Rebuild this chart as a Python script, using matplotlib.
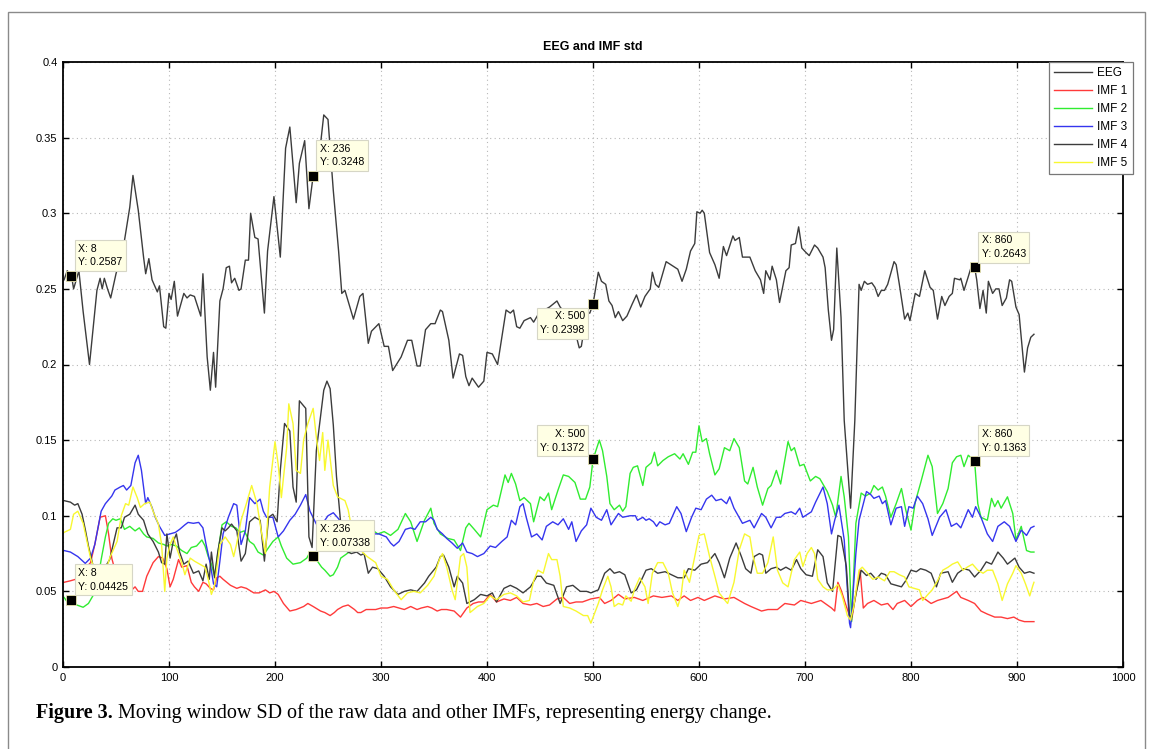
import matplotlib
matplotlib.use("Agg")
import matplotlib.pyplot as plt
from matplotlib.patches import Rectangle

plt.rcParams["font.family"] = ["Liberation Sans", "DejaVu Sans"]

# Данные: (x, y) для каждой кривой
eeg = [(1,0.256),(4,0.262),(8,0.2587),(10,0.250),(15,0.262),(19,0.235),(25,0.200),(29,0.228),(32,0.249),(35,0.257),(37,0.250),(39,0.257),(42,0.250),(45,0.244),(50,0.260),(54,0.270),(58,0.282),(63,0.304),(66,0.325),(71,0.302),(76,0.271),(78,0.260),(81,0.270),(84,0.256),(89,0.248),(91,0.252),(95,0.225),(97,0.224),(100,0.247),(102,0.243),(105,0.255),(108,0.232),(114,0.247),(117,0.244),(120,0.246),(124,0.245),(130,0.232),(132,0.260),(136,0.205),(139,0.183),(142,0.208),(144,0.185),(148,0.242),(151,0.250),(154,0.264),(157,0.265),(159,0.254),(162,0.257),(166,0.249),(168,0.250),(172,0.269),(175,0.269),(177,0.300),(181,0.284),(184,0.283),(190,0.234),(193,0.275),(199,0.311),(205,0.271),(210,0.343),(214,0.357),(220,0.307),(223,0.333),(228,0.348),(232,0.303),(236,0.3248),(240,0.327),(246,0.365),(250,0.362),(255,0.315),(260,0.275),(263,0.247),(266,0.249),(274,0.230),(280,0.245),(283,0.247),(288,0.214),(291,0.222),(298,0.227),(303,0.212),(307,0.212),(311,0.196),(319,0.205),(325,0.216),(329,0.216),(334,0.199),(337,0.199),(342,0.223),(347,0.227),(351,0.227),(356,0.236),(358,0.235),(364,0.216),(368,0.191),(374,0.207),(377,0.206),(380,0.192),(383,0.186),(386,0.191),(392,0.185),(397,0.189),(400,0.208),(405,0.207),(410,0.200),(414,0.218),(418,0.236),(422,0.234),(425,0.236),(428,0.225),(431,0.224),(435,0.229),(441,0.231),(444,0.228),(449,0.234),(459,0.238),(466,0.242),(469,0.238),(476,0.232),(482,0.225),(487,0.211),(489,0.212),(494,0.234),(497,0.234),(500,0.2398),(505,0.261),(508,0.255),(512,0.253),(515,0.242),(518,0.239),(521,0.231),(524,0.235),(528,0.229),(532,0.232),(537,0.240),(541,0.246),(545,0.238),(549,0.245),(554,0.250),(556,0.261),(559,0.253),(562,0.251),(569,0.268),(580,0.263),(584,0.255),(588,0.263),(592,0.275),(596,0.280),(598,0.301),(601,0.300),(603,0.302),(605,0.300),(610,0.274),(615,0.266),(619,0.257),(623,0.278),(626,0.272),(632,0.285),(634,0.282),(638,0.284),(641,0.271),(645,0.271),(648,0.271),(653,0.262),(658,0.256),(661,0.247),(663,0.262),(667,0.256),(669,0.265),(673,0.256),(676,0.241),(682,0.262),(685,0.264),(687,0.279),(691,0.280),(694,0.291),(697,0.277),(701,0.274),(704,0.272),(709,0.279),(712,0.277),(717,0.271),(719,0.264),(722,0.236),(725,0.216),(727,0.223),(730,0.277),(734,0.231),(737,0.163),(743,0.105),(747,0.163),(751,0.253),(753,0.249),(756,0.255),(759,0.253),(763,0.254),(766,0.251),(769,0.245),(772,0.249),(775,0.249),(778,0.253),(784,0.268),(786,0.266),(789,0.253),(794,0.230),(797,0.234),(799,0.229),(804,0.247),(808,0.245),(813,0.262),(818,0.251),(821,0.249),(825,0.230),(829,0.245),(832,0.239),(836,0.245),(839,0.247),(841,0.257),(846,0.256),(847,0.257),(850,0.249),(854,0.258),(857,0.265),(860,0.2643),(862,0.256),(865,0.237),(868,0.249),(871,0.234),(873,0.255),(877,0.247),(880,0.250),(883,0.250),(886,0.239),(890,0.244),(893,0.256),(895,0.255),(899,0.238),(902,0.233),(907,0.195),(910,0.211),(913,0.218),(916,0.220)]

imf1 = [(1,0.056),(7,0.057),(12,0.058),(17,0.062),(22,0.066),(26,0.069),(30,0.081),(35,0.099),(40,0.100),(43,0.088),(46,0.072),(49,0.064),(55,0.058),(60,0.058),(65,0.051),(68,0.053),(71,0.050),(75,0.050),(79,0.060),(85,0.069),(90,0.073),(94,0.072),(98,0.065),(101,0.053),(104,0.058),(109,0.071),(112,0.066),(117,0.067),(121,0.056),(124,0.053),(128,0.050),(132,0.056),(135,0.055),(139,0.052),(142,0.051),(145,0.059),(148,0.060),(151,0.058),(158,0.054),(164,0.052),(168,0.053),(173,0.052),(180,0.049),(185,0.049),(191,0.051),(195,0.049),(199,0.050),(203,0.048),(208,0.042),(214,0.037),(220,0.038),(227,0.040),(231,0.042),(236,0.040),(243,0.037),(247,0.036),(252,0.034),(256,0.036),(259,0.038),(264,0.040),(269,0.041),(275,0.038),(278,0.036),(281,0.036),(286,0.038),(291,0.038),(295,0.038),(300,0.039),(306,0.039),(312,0.040),(317,0.039),(322,0.038),(328,0.040),(334,0.038),(338,0.039),(344,0.040),(348,0.039),(353,0.037),(357,0.038),(362,0.038),(369,0.037),(375,0.033),(381,0.039),(387,0.042),(392,0.043),(397,0.043),(403,0.048),(409,0.043),(416,0.045),(422,0.044),(428,0.046),(434,0.042),(441,0.041),(447,0.042),(453,0.040),(459,0.041),(466,0.045),(472,0.046),(478,0.042),(484,0.043),(490,0.043),(498,0.045),(506,0.046),(511,0.042),(517,0.044),(524,0.048),(530,0.045),(539,0.046),(547,0.044),(557,0.047),(565,0.046),(574,0.047),(580,0.044),(586,0.047),(592,0.044),(599,0.046),(605,0.044),(615,0.047),(624,0.045),(633,0.046),(643,0.042),(649,0.040),(659,0.037),(665,0.038),(674,0.038),(681,0.042),(690,0.041),(696,0.044),(706,0.042),(715,0.044),(725,0.039),(728,0.037),(731,0.056),(734,0.051),(739,0.040),(742,0.034),(744,0.031),(747,0.044),(752,0.064),(755,0.039),(759,0.042),(765,0.044),(772,0.041),(778,0.042),(783,0.038),(787,0.042),(794,0.044),(800,0.040),(806,0.044),(811,0.046),(819,0.042),(825,0.044),(835,0.046),(843,0.050),(847,0.046),(854,0.044),(860,0.042),(866,0.037),(872,0.035),(879,0.033),(885,0.033),(891,0.032),(897,0.033),(902,0.031),(907,0.030),(913,0.030),(916,0.030)]

imf2 = [(1,0.046),(4,0.043),(8,0.04425),(13,0.041),(19,0.0395),(24,0.042),(29,0.048),(33,0.058),(36,0.071),(40,0.086),(43,0.095),(47,0.098),(50,0.097),(54,0.098),(58,0.091),(63,0.093),(68,0.090),(72,0.092),(76,0.088),(79,0.086),(85,0.085),(90,0.082),(95,0.081),(98,0.080),(102,0.081),(107,0.080),(112,0.077),(117,0.075),(121,0.079),(126,0.080),(131,0.084),(134,0.080),(137,0.073),(140,0.068),(143,0.060),(146,0.075),(150,0.094),(154,0.096),(159,0.093),(163,0.092),(167,0.089),(171,0.090),(176,0.083),(180,0.081),(184,0.076),(189,0.074),(194,0.079),(198,0.083),(203,0.086),(206,0.080),(211,0.072),(217,0.068),(224,0.069),(230,0.072),(233,0.076),(236,0.07338),(240,0.070),(244,0.066),(247,0.064),(252,0.060),(255,0.061),(259,0.066),(262,0.072),(266,0.074),(270,0.076),(275,0.077),(281,0.079),(284,0.085),(288,0.090),(291,0.091),(297,0.088),(303,0.0895),(309,0.087),(316,0.091),(323,0.1015),(328,0.096),(334,0.083),(341,0.097),(347,0.105),(350,0.095),(356,0.088),(363,0.085),(369,0.084),(375,0.077),(380,0.092),(383,0.095),(388,0.091),(394,0.086),(400,0.104),(406,0.107),(410,0.106),(417,0.127),(420,0.122),(423,0.128),(427,0.121),(431,0.110),(435,0.112),(441,0.108),(444,0.096),(450,0.1125),(454,0.110),(458,0.115),(461,0.104),(467,0.117),(472,0.127),(477,0.126),(483,0.122),(488,0.111),(493,0.111),(497,0.119),(500,0.1372),(506,0.150),(509,0.143),(513,0.126),(516,0.108),(520,0.104),(525,0.107),(528,0.103),(531,0.106),(535,0.128),(538,0.132),(542,0.133),(547,0.120),(550,0.132),(555,0.135),(558,0.142),(561,0.133),(566,0.1365),(571,0.139),(577,0.141),(582,0.1375),(585,0.141),(590,0.134),(594,0.142),(597,0.142),(600,0.1595),(603,0.149),(607,0.151),(610,0.141),(615,0.127),(619,0.131),(624,0.145),(629,0.143),(633,0.151),(638,0.145),(643,0.123),(646,0.121),(651,0.132),(655,0.119),(660,0.107),(665,0.118),(668,0.120),(673,0.130),(677,0.121),(684,0.149),(687,0.143),(690,0.145),(695,0.133),(699,0.134),(705,0.123),(710,0.126),(714,0.1245),(721,0.116),(726,0.107),(729,0.099),(734,0.126),(737,0.1125),(741,0.086),(744,0.030),(748,0.095),(753,0.115),(757,0.113),(762,0.115),(765,0.120),(769,0.117),(773,0.119),(776,0.113),(781,0.099),(786,0.108),(791,0.118),(795,0.104),(800,0.0905),(804,0.109),(809,0.1215),(816,0.140),(820,0.1325),(825,0.1015),(830,0.108),(835,0.118),(839,0.135),(843,0.139),(847,0.140),(850,0.1325),(854,0.140),(860,0.1363),(863,0.108),(866,0.099),(872,0.097),(876,0.1115),(879,0.106),(882,0.110),(885,0.105),(891,0.1125),(896,0.1015),(899,0.084),(904,0.093),(909,0.077),(913,0.076),(916,0.076)]

imf3 = [(1,0.077),(7,0.076),(14,0.073),(21,0.0685),(26,0.072),(30,0.081),(36,0.103),(40,0.108),(46,0.113),(49,0.117),(54,0.119),(57,0.120),(60,0.117),(64,0.120),(68,0.135),(71,0.140),(74,0.130),(78,0.108),(80,0.112),(84,0.1055),(87,0.099),(91,0.093),(96,0.087),(101,0.088),(106,0.089),(110,0.091),(115,0.094),(118,0.0956),(123,0.095),(128,0.0956),(132,0.092),(135,0.081),(139,0.068),(142,0.055),(145,0.053),(148,0.070),(151,0.088),(156,0.099),(161,0.108),(164,0.107),(168,0.081),(172,0.090),(176,0.112),(181,0.108),(186,0.111),(189,0.103),(192,0.099),(198,0.099),(203,0.086),(208,0.090),(214,0.097),(219,0.101),(224,0.107),(229,0.114),(233,0.103),(239,0.0945),(245,0.095),(250,0.100),(255,0.102),(260,0.098),(266,0.091),(272,0.086),(278,0.090),(284,0.087),(290,0.088),(298,0.088),(305,0.086),(309,0.082),(312,0.080),(317,0.083),(323,0.091),(328,0.092),(332,0.091),(337,0.096),(342,0.096),(347,0.099),(350,0.097),(353,0.091),(358,0.088),(362,0.085),(367,0.082),(372,0.0785),(377,0.082),(381,0.076),(386,0.075),(391,0.073),(397,0.075),(403,0.080),(408,0.079),(414,0.083),(419,0.086),(423,0.097),(427,0.094),(431,0.106),(434,0.108),(437,0.099),(442,0.086),(447,0.088),(452,0.084),(456,0.093),(462,0.096),(467,0.094),(472,0.098),(477,0.091),(480,0.096),(484,0.083),(489,0.090),(494,0.094),(498,0.105),(503,0.099),(508,0.097),(513,0.104),(517,0.094),(524,0.1015),(528,0.099),(535,0.100),(540,0.100),(542,0.097),(547,0.099),(550,0.097),(553,0.098),(557,0.096),(560,0.093),(563,0.096),(568,0.094),(572,0.095),(579,0.106),(583,0.1015),(588,0.0895),(593,0.099),(597,0.105),(602,0.104),(607,0.111),(612,0.1136),(616,0.110),(621,0.111),(626,0.108),(629,0.1125),(633,0.105),(641,0.095),(648,0.097),(652,0.092),(659,0.1015),(663,0.099),(668,0.092),(673,0.099),(677,0.099),(681,0.1015),(687,0.1026),(691,0.101),(695,0.105),(698,0.099),(706,0.1026),(710,0.109),(717,0.119),(721,0.108),(725,0.088),(728,0.097),(732,0.107),(737,0.084),(742,0.029),(743,0.026),(748,0.075),(751,0.097),(758,0.116),(762,0.114),(765,0.1115),(770,0.113),(773,0.108),(776,0.110),(781,0.094),(786,0.105),(791,0.106),(794,0.093),(798,0.106),(802,0.105),(806,0.113),(811,0.108),(816,0.098),(820,0.087),(827,0.099),(833,0.104),(838,0.093),(843,0.095),(847,0.092),(854,0.104),(858,0.099),(861,0.106),(866,0.099),(872,0.088),(877,0.083),(882,0.093),(888,0.096),(893,0.093),(899,0.083),(904,0.0905),(909,0.087),(913,0.092),(916,0.093)]

imf4 = [(1,0.110),(7,0.109),(11,0.107),(14,0.108),(18,0.101),(21,0.091),(24,0.080),(28,0.068),(33,0.062),(38,0.064),(44,0.071),(48,0.083),(51,0.092),(55,0.092),(58,0.099),(63,0.101),(68,0.107),(71,0.101),(76,0.097),(80,0.088),(85,0.083),(90,0.076),(93,0.069),(96,0.068),(98,0.088),(101,0.072),(104,0.083),(107,0.088),(110,0.076),(114,0.068),(118,0.070),(123,0.062),(128,0.0635),(132,0.057),(135,0.068),(138,0.058),(140,0.076),(143,0.059),(146,0.076),(150,0.092),(153,0.090),(156,0.092),(159,0.0945),(164,0.090),(168,0.070),(172,0.075),(176,0.096),(181,0.099),(186,0.097),(190,0.070),(194,0.099),(198,0.101),(202,0.096),(205,0.130),(209,0.161),(214,0.156),(217,0.119),(220,0.109),(223,0.176),(229,0.171),(232,0.086),(235,0.079),(239,0.143),(246,0.183),(249,0.189),(252,0.184),(255,0.160),(258,0.126),(262,0.095),(266,0.077),(272,0.075),(277,0.076),(281,0.074),(284,0.075),(288,0.062),(292,0.066),(297,0.065),(303,0.060),(309,0.053),(316,0.048),(322,0.050),(328,0.051),(334,0.050),(341,0.0555),(345,0.060),(352,0.066),(356,0.073),(359,0.074),(364,0.066),(369,0.053),(372,0.060),(377,0.0555),(381,0.042),(388,0.0445),(394,0.048),(400,0.047),(405,0.049),(409,0.043),(416,0.052),(422,0.054),(428,0.052),(434,0.049),(441,0.053),(447,0.060),(451,0.060),(456,0.0555),(463,0.054),(469,0.042),(475,0.053),(481,0.054),(488,0.050),(494,0.050),(498,0.049),(505,0.051),(511,0.062),(516,0.065),(520,0.062),(525,0.063),(530,0.061),(536,0.049),(541,0.051),(546,0.058),(550,0.064),(555,0.065),(561,0.062),(568,0.063),(574,0.061),(580,0.059),(586,0.059),(590,0.065),(596,0.064),(602,0.068),(608,0.069),(615,0.075),(619,0.069),(624,0.059),(629,0.072),(635,0.082),(640,0.073),(644,0.065),(649,0.062),(652,0.073),(657,0.075),(660,0.074),(663,0.062),(668,0.065),(673,0.066),(677,0.064),(682,0.066),(687,0.064),(692,0.071),(696,0.065),(701,0.061),(707,0.060),(712,0.0775),(717,0.073),(721,0.0556),(726,0.050),(731,0.087),(734,0.086),(739,0.0665),(742,0.034),(744,0.033),(748,0.048),(753,0.064),(758,0.0605),(762,0.062),(767,0.058),(772,0.062),(776,0.061),(781,0.055),(786,0.054),(791,0.053),(795,0.057),(800,0.064),(805,0.063),(809,0.065),(814,0.064),(819,0.062),(824,0.053),(828,0.062),(835,0.063),(839,0.056),(844,0.062),(850,0.065),(855,0.064),(860,0.0595),(866,0.064),(871,0.0695),(876,0.068),(882,0.076),(887,0.072),(891,0.068),(898,0.072),(902,0.066),(907,0.062),(912,0.063),(916,0.062)]

imf5 = [(1,0.089),(7,0.091),(10,0.101),(14,0.103),(19,0.095),(22,0.085),(26,0.072),(30,0.064),(35,0.060),(40,0.062),(44,0.072),(51,0.083),(55,0.100),(59,0.108),(62,0.107),(66,0.119),(70,0.112),(73,0.1055),(77,0.108),(82,0.109),(85,0.103),(90,0.0945),(93,0.081),(96,0.050),(98,0.072),(101,0.081),(104,0.086),(107,0.079),(112,0.069),(115,0.061),(120,0.072),(124,0.070),(129,0.068),(134,0.066),(137,0.058),(140,0.048),(143,0.054),(148,0.081),(153,0.086),(158,0.081),(161,0.073),(164,0.082),(168,0.097),(173,0.108),(178,0.120),(183,0.108),(187,0.090),(191,0.075),(195,0.119),(200,0.149),(203,0.134),(206,0.112),(211,0.145),(213,0.174),(217,0.161),(220,0.130),(224,0.128),(227,0.150),(231,0.161),(236,0.171),(239,0.152),(242,0.1365),(245,0.155),(247,0.130),(250,0.150),(255,0.120),(259,0.1125),(266,0.110),(269,0.104),(275,0.082),(281,0.077),(287,0.073),(295,0.069),(300,0.060),(306,0.058),(312,0.051),(319,0.0445),(325,0.049),(331,0.050),(337,0.049),(344,0.054),(350,0.060),(355,0.071),(358,0.075),(362,0.066),(367,0.051),(370,0.0445),(375,0.073),(378,0.075),(381,0.066),(384,0.036),(391,0.040),(397,0.042),(403,0.047),(409,0.0445),(416,0.048),(422,0.049),(428,0.047),(434,0.043),(440,0.044),(444,0.057),(448,0.064),(453,0.062),(458,0.075),(461,0.071),(466,0.071),(469,0.060),(472,0.040),(478,0.039),(484,0.037),(491,0.034),(495,0.034),(498,0.029),(505,0.042),(509,0.051),(514,0.060),(517,0.053),(520,0.040),(524,0.042),(528,0.041),(531,0.047),(536,0.0435),(539,0.051),(544,0.059),(549,0.053),(552,0.042),(556,0.062),(561,0.069),(566,0.069),(571,0.062),(575,0.049),(580,0.040),(583,0.047),(586,0.064),(591,0.056),(596,0.073),(600,0.087),(605,0.088),(610,0.073),(615,0.060),(619,0.049),(624,0.0445),(627,0.042),(633,0.056),(638,0.0775),(643,0.088),(648,0.086),(651,0.073),(655,0.062),(660,0.062),(665,0.069),(670,0.086),(674,0.064),(679,0.0556),(684,0.053),(690,0.071),(695,0.076),(698,0.0665),(702,0.075),(706,0.079),(709,0.075),(712,0.058),(717,0.053),(721,0.051),(726,0.051),(731,0.0545),(735,0.047),(740,0.034),(743,0.031),(746,0.040),(751,0.064),(754,0.066),(759,0.062),(764,0.058),(769,0.0595),(775,0.057),(780,0.063),(784,0.063),(789,0.061),(794,0.0595),(798,0.053),(803,0.052),(808,0.051),(811,0.044),(816,0.048),(820,0.051),(825,0.057),(830,0.064),(835,0.066),(839,0.068),(844,0.0695),(849,0.064),(853,0.066),(858,0.068),(863,0.064),(868,0.062),(872,0.064),(877,0.064),(882,0.055),(886,0.044),(891,0.055),(896,0.062),(899,0.067),(904,0.062),(908,0.055),(912,0.047),(915,0.054),(916,0.056)]

series = [eeg, imf1, imf2, imf3, imf4, imf5]
labels = ["EEG", "IMF 1", "IMF 2", "IMF 3", "IMF 4", "IMF 5"]
colors = ["#3c3c3c", "#ff3a3a", "#30ec30", "#3535ee", "#3c3c3c", "#f8f830"]

# Подсказки (datatips): x, y и сторона подписи
tips = [(8, 0.2587, "ur"), (236, 0.3248, "ur"), (500, 0.2398, "lr"), (860, 0.2643, "ur"),
        (8, 0.04425, "ur"), (236, 0.07338, "ur"), (500, 0.1372, "ul"), (860, 0.1363, "ur")]

fig = plt.figure(figsize=(11.53, 7.49), dpi=100)
fig.patches.append(Rectangle((8/1153, -0.02), 1137/1153, 1.02 - 12/749, transform=fig.transFigure,
                             fill=False, edgecolor="#8a8a8a", linewidth=1.0))

ax = fig.add_axes([63/1153, 1 - 667/749, 1060/1153, 605/749])
for data, lab, col in zip(series, labels, colors):
    xs = [p[0] for p in data]
    ys = [p[1] for p in data]
    ax.plot(xs, ys, color=col, linewidth=1.0, label=lab)

for tx, ty, side in tips:
    ax.plot([tx], [ty], marker="s", markersize=6.5, color="black",
            markeredgecolor="#e8e4b0", markeredgewidth=0.6, zorder=10)
    if side == "ur":
        off, ha, va = (5, 6), "left", "bottom"
    elif side == "lr":
        off, ha, va = (-6, -5), "right", "top"
    else:
        off, ha, va = (-6, 5), "right", "bottom"
    ax.annotate("X: %g\nY: %s" % (tx, repr(ty).rstrip("0")), (tx, ty), xytext=off,
                textcoords="offset points", ha=ha, va=va, fontsize=7.6, linespacing=1.45,
                bbox=dict(boxstyle="square,pad=0.35", facecolor="#ffffe4", edgecolor="#d6d6c6", linewidth=0.8),
                zorder=11)

ax.set_xlim(0, 1000)
ax.set_ylim(0, 0.4)
ax.set_xticks(range(0, 1001, 100))
ax.set_yticks([0, 0.05, 0.1, 0.15, 0.2, 0.25, 0.3, 0.35, 0.4])
ax.set_yticklabels(["0", "0.05", "0.1", "0.15", "0.2", "0.25", "0.3", "0.35", "0.4"])
ax.tick_params(direction="in", length=4, width=1, top=True, right=True, labelsize=8, pad=4)
for s in ax.spines.values():
    s.set_linewidth(1.3)
ax.grid(True, linestyle=(0, (1, 3)), color="#b8b8b8", linewidth=0.8)
ax.set_title("EEG and IMF std", fontsize=9, fontweight="bold", pad=9)

leg = fig.legend(loc="upper left", bbox_to_anchor=(1049/1153, 1 - 62/749), borderaxespad=0,
                 fontsize=8.5, handlelength=3.2, handletextpad=0.45, labelspacing=0.5,
                 borderpad=0.45, fancybox=False, framealpha=1, edgecolor="#777777")
leg.get_frame().set_linewidth(0.9)
leg.set_zorder(20)

# Подпись к рисунку
t1 = fig.text(36/1153, 0.041, "Figure 3.", fontsize=14.5, fontweight="bold",
              family=["Liberation Serif", "DejaVu Serif"])
fig.canvas.draw()
bb = t1.get_window_extent()
fig.text((bb.x1 + 5) / fig.bbox.width, 0.041,
         "Moving window SD of the raw data and other IMFs, representing energy change.",
         fontsize=14.5, family=["Liberation Serif", "DejaVu Serif"])

fig.savefig("out.png", dpi=100)
